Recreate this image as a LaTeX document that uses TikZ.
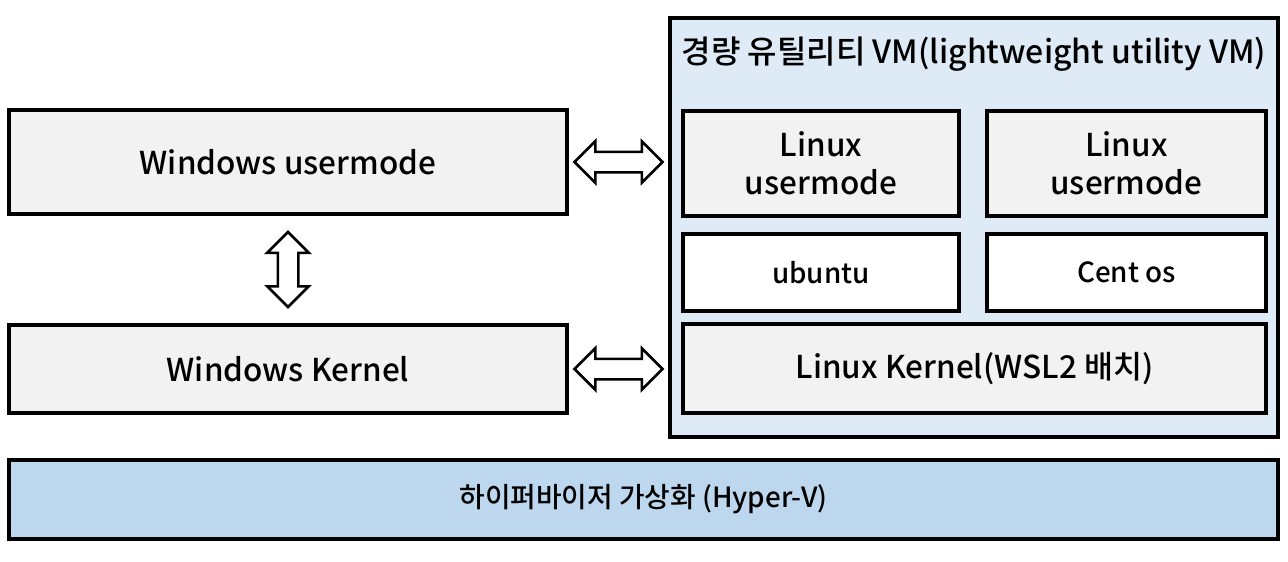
\documentclass[tikz,border=0pt]{standalone}
\usepackage{fontspec}
\newfontfamily\krfont{Noto Sans CJK KR Medium}
\usetikzlibrary{shapes.arrows,calc,positioning}
\definecolor{boxgray}{HTML}{F2F2F2}
\definecolor{vmblue}{HTML}{DEEBF7}
\definecolor{hvblue}{HTML}{BDD7EE}
\tikzset{
    layer/.style={draw=black,line width=3.5pt,fill=boxgray,inner sep=0pt,align=center,
        font=\krfont\fontsize{31.5pt}{38pt}\selectfont},
    small/.style={font=\krfont\fontsize{27.8pt}{32pt}\selectfont},
    dblarrow/.style={double arrow,draw=black,line width=2.5pt,fill=white,inner sep=9pt,
        minimum height=#1,double arrow head extend=10.5pt,double arrow head indent=0pt},
}
\begin{document}
\begin{tikzpicture}[x=1pt,y=-1pt]
    \useasboundingbox[fill=white] (0,0) rectangle (1288,562);
    % Windows side
    \node[layer,minimum width=558,minimum height=104] (winuser) at (288,162) {Windows usermode};
    \node[layer,minimum width=558,minimum height=88] (winkernel) at (288,369) {Windows Kernel};
    % Utility VM
    \node[layer,fill=vmblue,minimum width=608,minimum height=419] (vm) at (974,227.5) {};
    \node[below=20pt of vm.north,inner sep=0pt,font=\krfont\fontsize{32pt}{36pt}\selectfont] (vmtitle)
        {경량 유틸리티 VM(lightweight utility VM)};
    \node[layer,minimum width=276,minimum height=105] (linuser1) at (821,163.5) {Linux\\usermode};
    \node[layer,minimum width=279,minimum height=105] (linuser2) at (1126.5,163.5) {Linux\\usermode};
    \node[layer,small,fill=white,minimum width=276,minimum height=77] (ubuntu) at (821,272.5) {ubuntu};
    \node[layer,small,fill=white,minimum width=279,minimum height=77] (centos) at (1126.5,272.5) {Cent os};
    \node[layer,minimum width=583,minimum height=89] (linkernel) at (974.5,368.5) {Linux Kernel(WSL2 배치)};
    % Hypervisor
    \node[layer,small,fill=hvblue,minimum width=1269,minimum height=79] (hyperv) at (643.5,499.5)
        {하이퍼바이저 가상화 (Hyper-V)};
    % Links
    \node[dblarrow=88] (userlink) at ($(winuser.east)!0.5!(vm.west|-winuser.east)$) {};
    \node[dblarrow=88] (kernellink) at ($(winkernel.east)!0.5!(vm.west|-winkernel.east)$) {};
    \node[dblarrow=75,shape border rotate=90] (winlink) at ($(winuser.south)!0.5!(winkernel.north)$) {};
\end{tikzpicture}
\end{document}
